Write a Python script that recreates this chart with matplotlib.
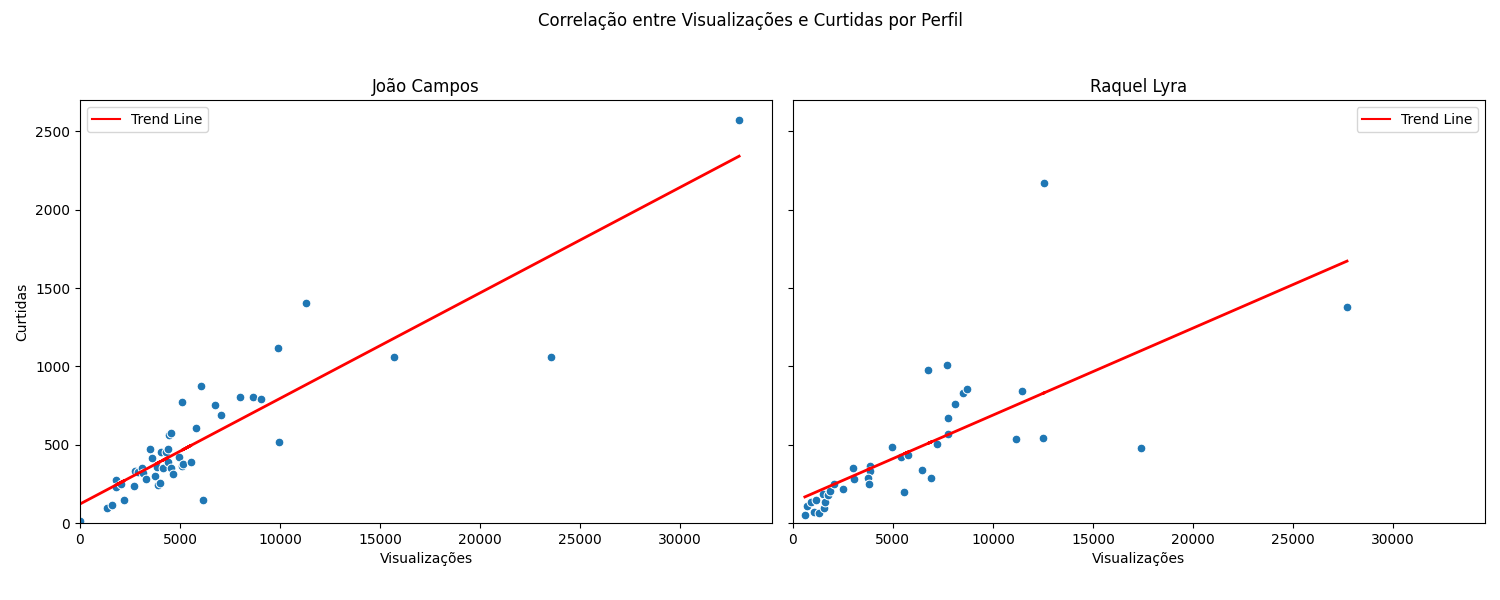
import matplotlib
matplotlib.use('Agg')
import matplotlib.pyplot as plt
import numpy as np

perfis = ['João Campos', 'Raquel Lyra']

joao_views = [0, 1370, 1620, 2220, 1820, 1820, 2070, 2720, 2750, 2900, 3100, 3170,
              3320, 3500, 3620, 3770, 3920, 4000, 3830, 4070, 4300, 4380, 4130, 4420,
              4450, 4550, 4570, 4670, 4950, 5080, 5170, 5570, 5120, 5820, 6070, 6170,
              6750, 7070, 8020, 8650, 9070, 9920, 9970, 11320, 15700, 23550, 32950]
joao_curtidas = [13, 100, 119, 145, 274, 232, 249, 236, 330, 325, 349, 317,
                 285, 472, 417, 300, 242, 255, 359, 451, 451, 472, 349, 391,
                 561, 578, 355, 312, 423, 368, 376, 389, 770, 604, 872, 147,
                 753, 693, 808, 808, 789, 1120, 515, 1403, 1059, 1059, 2570]

raquel_views = [600, 720, 930, 1050, 1150, 1300, 1520, 1570, 1620, 1770, 1870, 2050,
                2520, 3020, 3070, 3870, 3850, 3750, 3820, 4970, 5420, 5770, 5570, 6470,
                6920, 6770, 7220, 7720, 7770, 7770, 8100, 8520, 8720, 11150, 11470,
                12550, 12500, 17400, 27700]
raquel_curtidas = [55, 108, 136, 72, 151, 62, 185, 98, 134, 179, 206, 247,
                   217, 349, 279, 364, 332, 287, 253, 483, 425, 432, 202, 342,
                   291, 980, 508, 1012, 674, 572, 763, 833, 859, 534, 842,
                   2168, 542, 478, 1378]

dados = [(joao_views, joao_curtidas), (raquel_views, raquel_curtidas)]

fig, axes = plt.subplots(1, 2, figsize=(15, 6), sharex=True, sharey=True)
fig.suptitle('Correlação entre Visualizações e Curtidas por Perfil')

for ax, nome, (x, y) in zip(axes, perfis, dados):
    x = np.array(x)
    y = np.array(y)
    ax.scatter(x, y, color='#1f77b4', edgecolor='white', linewidth=0.75, s=40, zorder=2)
    m, b = np.polyfit(x, y, 1)
    ax.plot(x, m * x + b, color='red', linewidth=2, label='Trend Line')
    ax.set_title(nome)
    ax.set_xlabel('Visualizações')
    leg = ax.legend()
    for h in leg.get_lines():
        h.set_linewidth(1.5)

axes[0].set_ylabel('Curtidas')
axes[0].set_xlim(left=0)
axes[0].set_ylim(bottom=0)

plt.subplots_adjust(left=0.0533, right=0.99, bottom=0.128, top=0.833, wspace=0.03)
plt.savefig('out.png', dpi=100)
